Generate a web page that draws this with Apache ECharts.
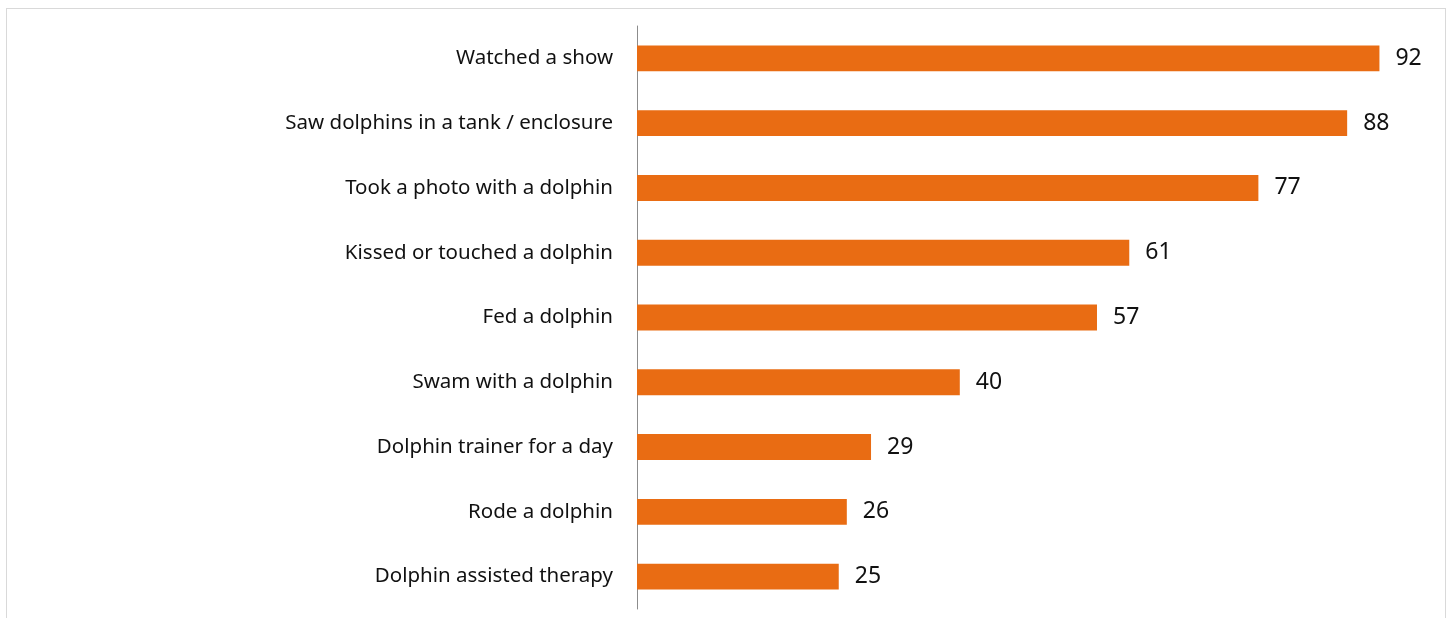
<!DOCTYPE html>
<html><head><meta charset="utf-8">
<script src="https://cdn.jsdelivr.net/npm/echarts@6/dist/echarts.min.js"></script>
<style>
html,body{margin:0;padding:0;background:#fff;overflow:hidden;}
#frame{position:absolute;left:6px;top:8px;width:1440px;height:640px;border:1px solid #d9d9d9;box-sizing:border-box;}
#chart{position:absolute;left:0;top:0;width:1452px;height:618px;}
</style></head>
<body>
<div id="frame"></div>
<div id="chart"></div>
<script>
const categories = ["Watched a show","Saw dolphins in a tank / enclosure","Took a photo with a dolphin","Kissed or touched a dolphin","Fed a dolphin","Swam with a dolphin","Dolphin trainer for a day","Rode a dolphin","Dolphin assisted therapy"];
const values = [92,88,77,61,57,40,29,26,25];

const chart = echarts.init(document.getElementById('chart'));
chart.setOption({
  animation:false,
  grid:{left:637,right:8,top:26,bottom:9,containLabel:false},
  xAxis:{type:'value',min:0,max:100,show:false},
  yAxis:{type:'category',data:categories,inverse:true,
    axisLine:{show:true,lineStyle:{color:'#8c8c8c',width:1}},
    axisTick:{show:false},
    axisLabel:{color:'#111',fontSize:20.5,fontFamily:'Noto Sans',margin:24}},
  series:[{type:'bar',data:values,barCategoryGap:'60%',
    itemStyle:{color:'#E96C13'},
    label:{show:true,position:'right',distance:16,color:'#111',fontSize:23,fontFamily:'Noto Sans'}}]
});
</script>
</body></html>
